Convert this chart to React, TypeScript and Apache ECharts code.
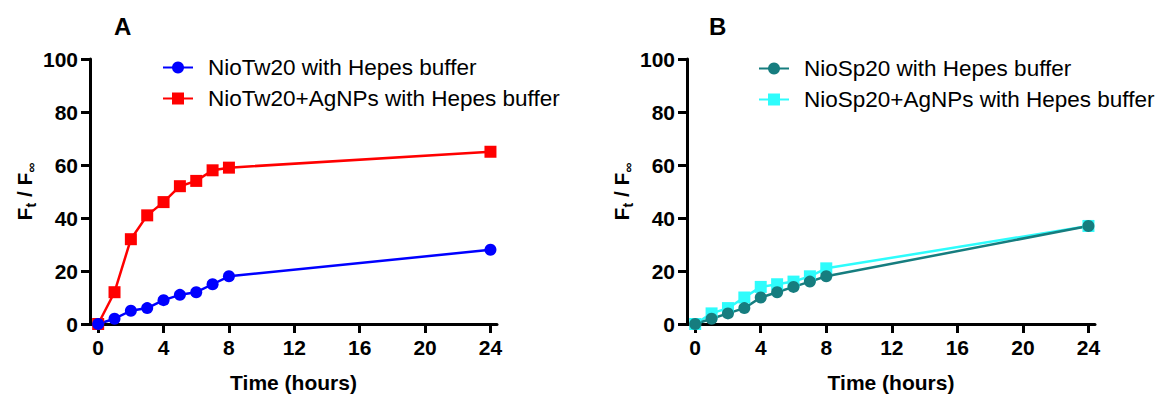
import React, { useEffect, useRef } from "react";
import * as echarts from "echarts";

const hours = [0, 1, 2, 3, 4, 5, 6, 7, 8, 24];
const tw20 = [0, 2, 5, 6, 9, 11, 12, 15, 18, 28];
const tw20Ag = [0, 12, 32, 41, 46, 52, 54, 58, 59, 65];
const sp20 = [0, 2, 4, 6, 10, 12, 14, 16, 18, 37];
const sp20Ag = [0, 4, 6, 10, 14, 15, 16, 18, 21, 37];
const xTicks = [0, 4, 8, 12, 16, 20, 24];
const panelTitles = ["A", "B"];
const seriesNames = [
  "NioTw20 with Hepes buffer",
  "NioTw20+AgNPs with Hepes buffer",
  "NioSp20 with Hepes buffer",
  "NioSp20+AgNPs with Hepes buffer",
];

const FONT = "'Liberation Sans', Arial, sans-serif";

export default function App() {
  const ref = useRef<HTMLDivElement>(null);
  useEffect(() => {
    document.body.style.margin = "0";
    const chart = echarts.init(ref.current!, null, { renderer: "svg" });
    const pair = (ys: number[]) => hours.map((h, i) => [h, ys[i]]);
    const axisLineStyle = { color: "#000", width: 3 };
    const mkX = (gi: number) => ({
      type: "value",
      gridIndex: gi,
      min: -0.5,
      max: 24.4,
      splitLine: { show: false },
      axisLine: { onZero: false, lineStyle: axisLineStyle },
      axisTick: { customValues: xTicks, length: 9, lineStyle: { width: 3, color: "#000" } },
      axisLabel: {
        customValues: xTicks,
        margin: 13,
        color: "#000",
        fontSize: 21,
        fontWeight: "bold",
        fontFamily: FONT,
      },
      name: "Time (hours)",
      nameLocation: "middle",
      nameGap: 48,
      nameTextStyle: { color: "#000", fontSize: 21, fontWeight: "bold", fontFamily: FONT },
    });
    const mkY = (gi: number) => ({
      type: "value",
      gridIndex: gi,
      min: 0,
      max: 100,
      interval: 20,
      splitLine: { show: false },
      axisLine: { show: true, onZero: false, lineStyle: axisLineStyle },
      axisTick: { show: true, length: 9, lineStyle: { width: 3, color: "#000" } },
      axisLabel: {
        margin: 12,
        color: "#000",
        fontSize: 21,
        fontWeight: "bold",
        fontFamily: FONT,
      },
      name: "{F|F}{s|t}{F| / F}{s|∞}",
      nameLocation: "middle",
      nameRotate: 90,
      nameGap: 52,
      nameTextStyle: {
        color: "#000",
        fontFamily: FONT,
        rich: {
          F: { fontSize: 21, fontWeight: "bold", fontFamily: FONT, color: "#000", lineHeight: 28, verticalAlign: "middle" },
          s: { fontSize: 14, fontWeight: "bold", fontFamily: FONT, color: "#000", lineHeight: 14, verticalAlign: "bottom" },
        },
      },
    });
    const legendBase = {
      orient: "vertical",
      padding: 0,
      itemWidth: 30,
      itemHeight: 15,
      itemGap: 8,
      textStyle: { color: "#000", fontSize: 22.5, fontFamily: FONT, lineHeight: 22, padding: [0, 0, 0, 10] },
    };
    const mkSeries = (name: string, ys: number[], color: string, symbol: string, gi: number) => ({
      type: "line",
      name,
      data: pair(ys),
      xAxisIndex: gi,
      yAxisIndex: gi,
      symbol,
      symbolSize: 12,
      color,
      lineStyle: { color, width: 2.5 },
      itemStyle: { color },
      clip: false,
    });
    const titleStyle = { fontSize: 24, fontWeight: "bold", fontFamily: FONT, color: "#000" };
    chart.setOption({
      animation: false,
      backgroundColor: "#fff",
      title: [
        { text: panelTitles[0], left: 114, top: 14, padding: 0, textStyle: titleStyle },
        { text: panelTitles[1], left: 709, top: 14, padding: 0, textStyle: titleStyle },
      ],
      legend: [
        { ...legendBase, left: 162, top: 56, data: [seriesNames[0], seriesNames[1]] },
        { ...legendBase, left: 758, top: 57, data: [seriesNames[2], seriesNames[3]] },
      ],
      grid: [
        { left: 90, top: 59, width: 407, height: 272 },
        { left: 687, top: 59, width: 408, height: 272 },
      ],
      xAxis: [mkX(0), mkX(1)],
      yAxis: [mkY(0), mkY(1)],
      series: [
        mkSeries(seriesNames[1], tw20Ag, "#ff0000", "rect", 0),
        mkSeries(seriesNames[0], tw20, "#0000ff", "circle", 0),
        mkSeries(seriesNames[3], sp20Ag, "#2efcfc", "rect", 1),
        mkSeries(seriesNames[2], sp20, "#167d7f", "circle", 1),
      ],
    });
    return () => chart.dispose();
  }, []);
  return <div ref={ref} style={{ width: 1158, height: 398 }} />;
}
